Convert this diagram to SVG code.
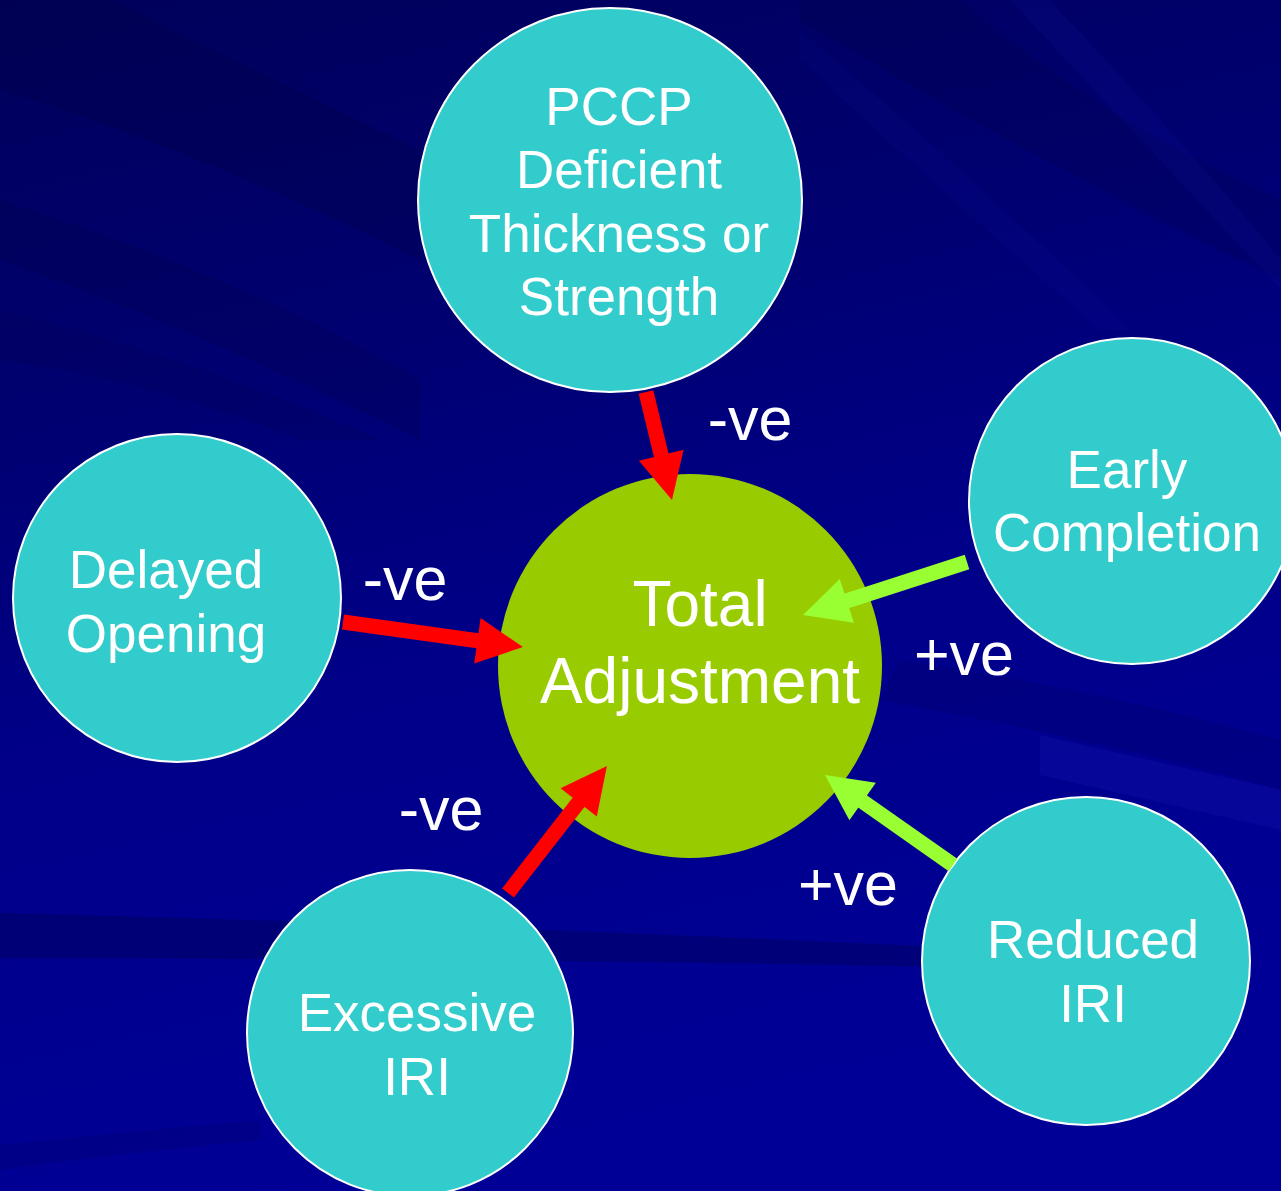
<svg xmlns="http://www.w3.org/2000/svg" width="1281" height="1191" viewBox="0 0 1281 1191">
<defs>
<linearGradient id="bg" x1="0" y1="0" x2="0.25" y2="1">
<stop offset="0" stop-color="#00005A"/>
<stop offset="0.35" stop-color="#000072"/>
<stop offset="0.6" stop-color="#000088"/>
<stop offset="1" stop-color="#000096"/>
</linearGradient>
<marker id="head-red" markerUnits="userSpaceOnUse" markerWidth="46" markerHeight="46" viewBox="0 -23 46 46" refX="2" refY="0" orient="auto" overflow="visible">
<path d="M0,-23 L46,0 L0,23 Z" fill="#FF0000"/>
</marker>
<marker id="head-green" markerUnits="userSpaceOnUse" markerWidth="46" markerHeight="46" viewBox="0 -23 46 46" refX="2" refY="0" orient="auto" overflow="visible">
<path d="M0,-23 L46,0 L0,23 Z" fill="#99FF33"/>
</marker>
</defs>
<style>
.node{fill:#33CCCC;stroke:#FFFFFF;stroke-width:2}
.hub{fill:#99CC00;stroke:none}
.lbl{font-family:"Liberation Sans",Arial,sans-serif;fill:#FFFFFF;text-anchor:middle}
.t53{font-size:53px}
.t64{font-size:64px}
.sign{font-family:"Liberation Sans",Arial,sans-serif;fill:#FFFFFF;font-size:61px;text-anchor:middle}
.neg{stroke:#FF0000;stroke-width:15;fill:none;marker-end:url(#head-red)}
.pos{stroke:#99FF33;stroke-width:15;fill:none;marker-end:url(#head-green)}
.dark{fill:#000040}
.light{fill:#2020C0}
</style>
<g id="background">
<rect x="0" y="0" width="1281" height="1191" fill="url(#bg)"/>
<path class="dark" opacity="0.25" d="M0,0 L110,0 L420,150 L420,260 Q200,150 0,90 Z"/>
<path class="dark" opacity="0.2" d="M0,200 Q250,280 420,380 L420,440 Q200,330 0,260 Z"/>
<path class="dark" opacity="0.15" d="M0,310 Q200,360 380,440 L300,440 Q150,380 0,360 Z"/>
<path class="dark" opacity="0.2" d="M800,0 L960,0 Q1100,120 1281,200 L1281,280 Q1050,170 800,20 Z"/>
<path class="light" opacity="0.1" d="M1010,0 L1050,0 Q1200,160 1281,260 L1281,290 Q1150,150 1010,0 Z"/>
<path class="light" opacity="0.07" d="M800,30 Q1000,200 1130,330 L1100,330 Q950,200 800,60 Z"/>
<path class="dark" opacity="0.15" d="M880,700 Q1100,740 1281,790 L1281,740 Q1100,690 900,660 Z"/>
<path class="light" opacity="0.18" d="M1040,735 L1281,790 L1281,830 L1040,775 Z"/>
<path class="dark" opacity="0.3" d="M0,913 Q500,925 1000,950 L1000,968 Q500,958 0,958 Z"/>
<path class="dark" opacity="0.15" d="M0,1145 Q150,1130 260,1120 L260,1140 Q150,1150 0,1170 Z"/>
</g>
<g id="node-pccp">
<circle class="node" cx="610" cy="200" r="192"/>
<text class="lbl t53" x="619" y="125">PCCP</text>
<text class="lbl t53" x="619" y="188">Deficient</text>
<text class="lbl t53" x="619" y="252">Thickness or</text>
<text class="lbl t53" x="619" y="315">Strength</text>
</g>
<g id="node-early">
<circle class="node" cx="1132" cy="501" r="163"/>
<text class="lbl t53" x="1127" y="488">Early</text>
<text class="lbl t53" x="1127" y="551">Completion</text>
</g>
<g id="node-delayed">
<circle class="node" cx="177" cy="598" r="164"/>
<text class="lbl t53" x="166" y="588">Delayed</text>
<text class="lbl t53" x="166" y="652">Opening</text>
</g>
<g id="node-total">
<circle class="hub" cx="690" cy="666" r="192"/>
<text class="lbl t64" x="700" y="626">Total</text>
<text class="lbl t64" x="700" y="703">Adjustment</text>
</g>
<g id="node-excessive">
<circle class="node" cx="410" cy="1033" r="163"/>
<text class="lbl t53" x="417" y="1031">Excessive</text>
<text class="lbl t53" x="417" y="1095">IRI</text>
</g>
<g id="node-reduced">
<circle class="node" cx="1086" cy="961" r="164"/>
<text class="lbl t53" x="1093" y="958">Reduced</text>
<text class="lbl t53" x="1093" y="1022">IRI</text>
</g>
<g id="connectors">
<line class="neg" x1="646" y1="392" x2="661.7" y2="457.2"/>
<line class="neg" x1="343" y1="622" x2="479.4" y2="641"/>
<line class="pos" x1="967" y1="562" x2="844.9" y2="601.5"/>
<line class="neg" x1="508" y1="893" x2="579.9" y2="800.7"/>
<line class="pos" x1="953" y1="865" x2="861" y2="800.3"/>
</g>
<g id="labels">
<text class="sign" x="750" y="440">-ve</text>
<text class="sign" x="405" y="600">-ve</text>
<text class="sign" x="964" y="675">+ve</text>
<text class="sign" x="441" y="830">-ve</text>
<text class="sign" x="848" y="905">+ve</text>
</g>
</svg>
